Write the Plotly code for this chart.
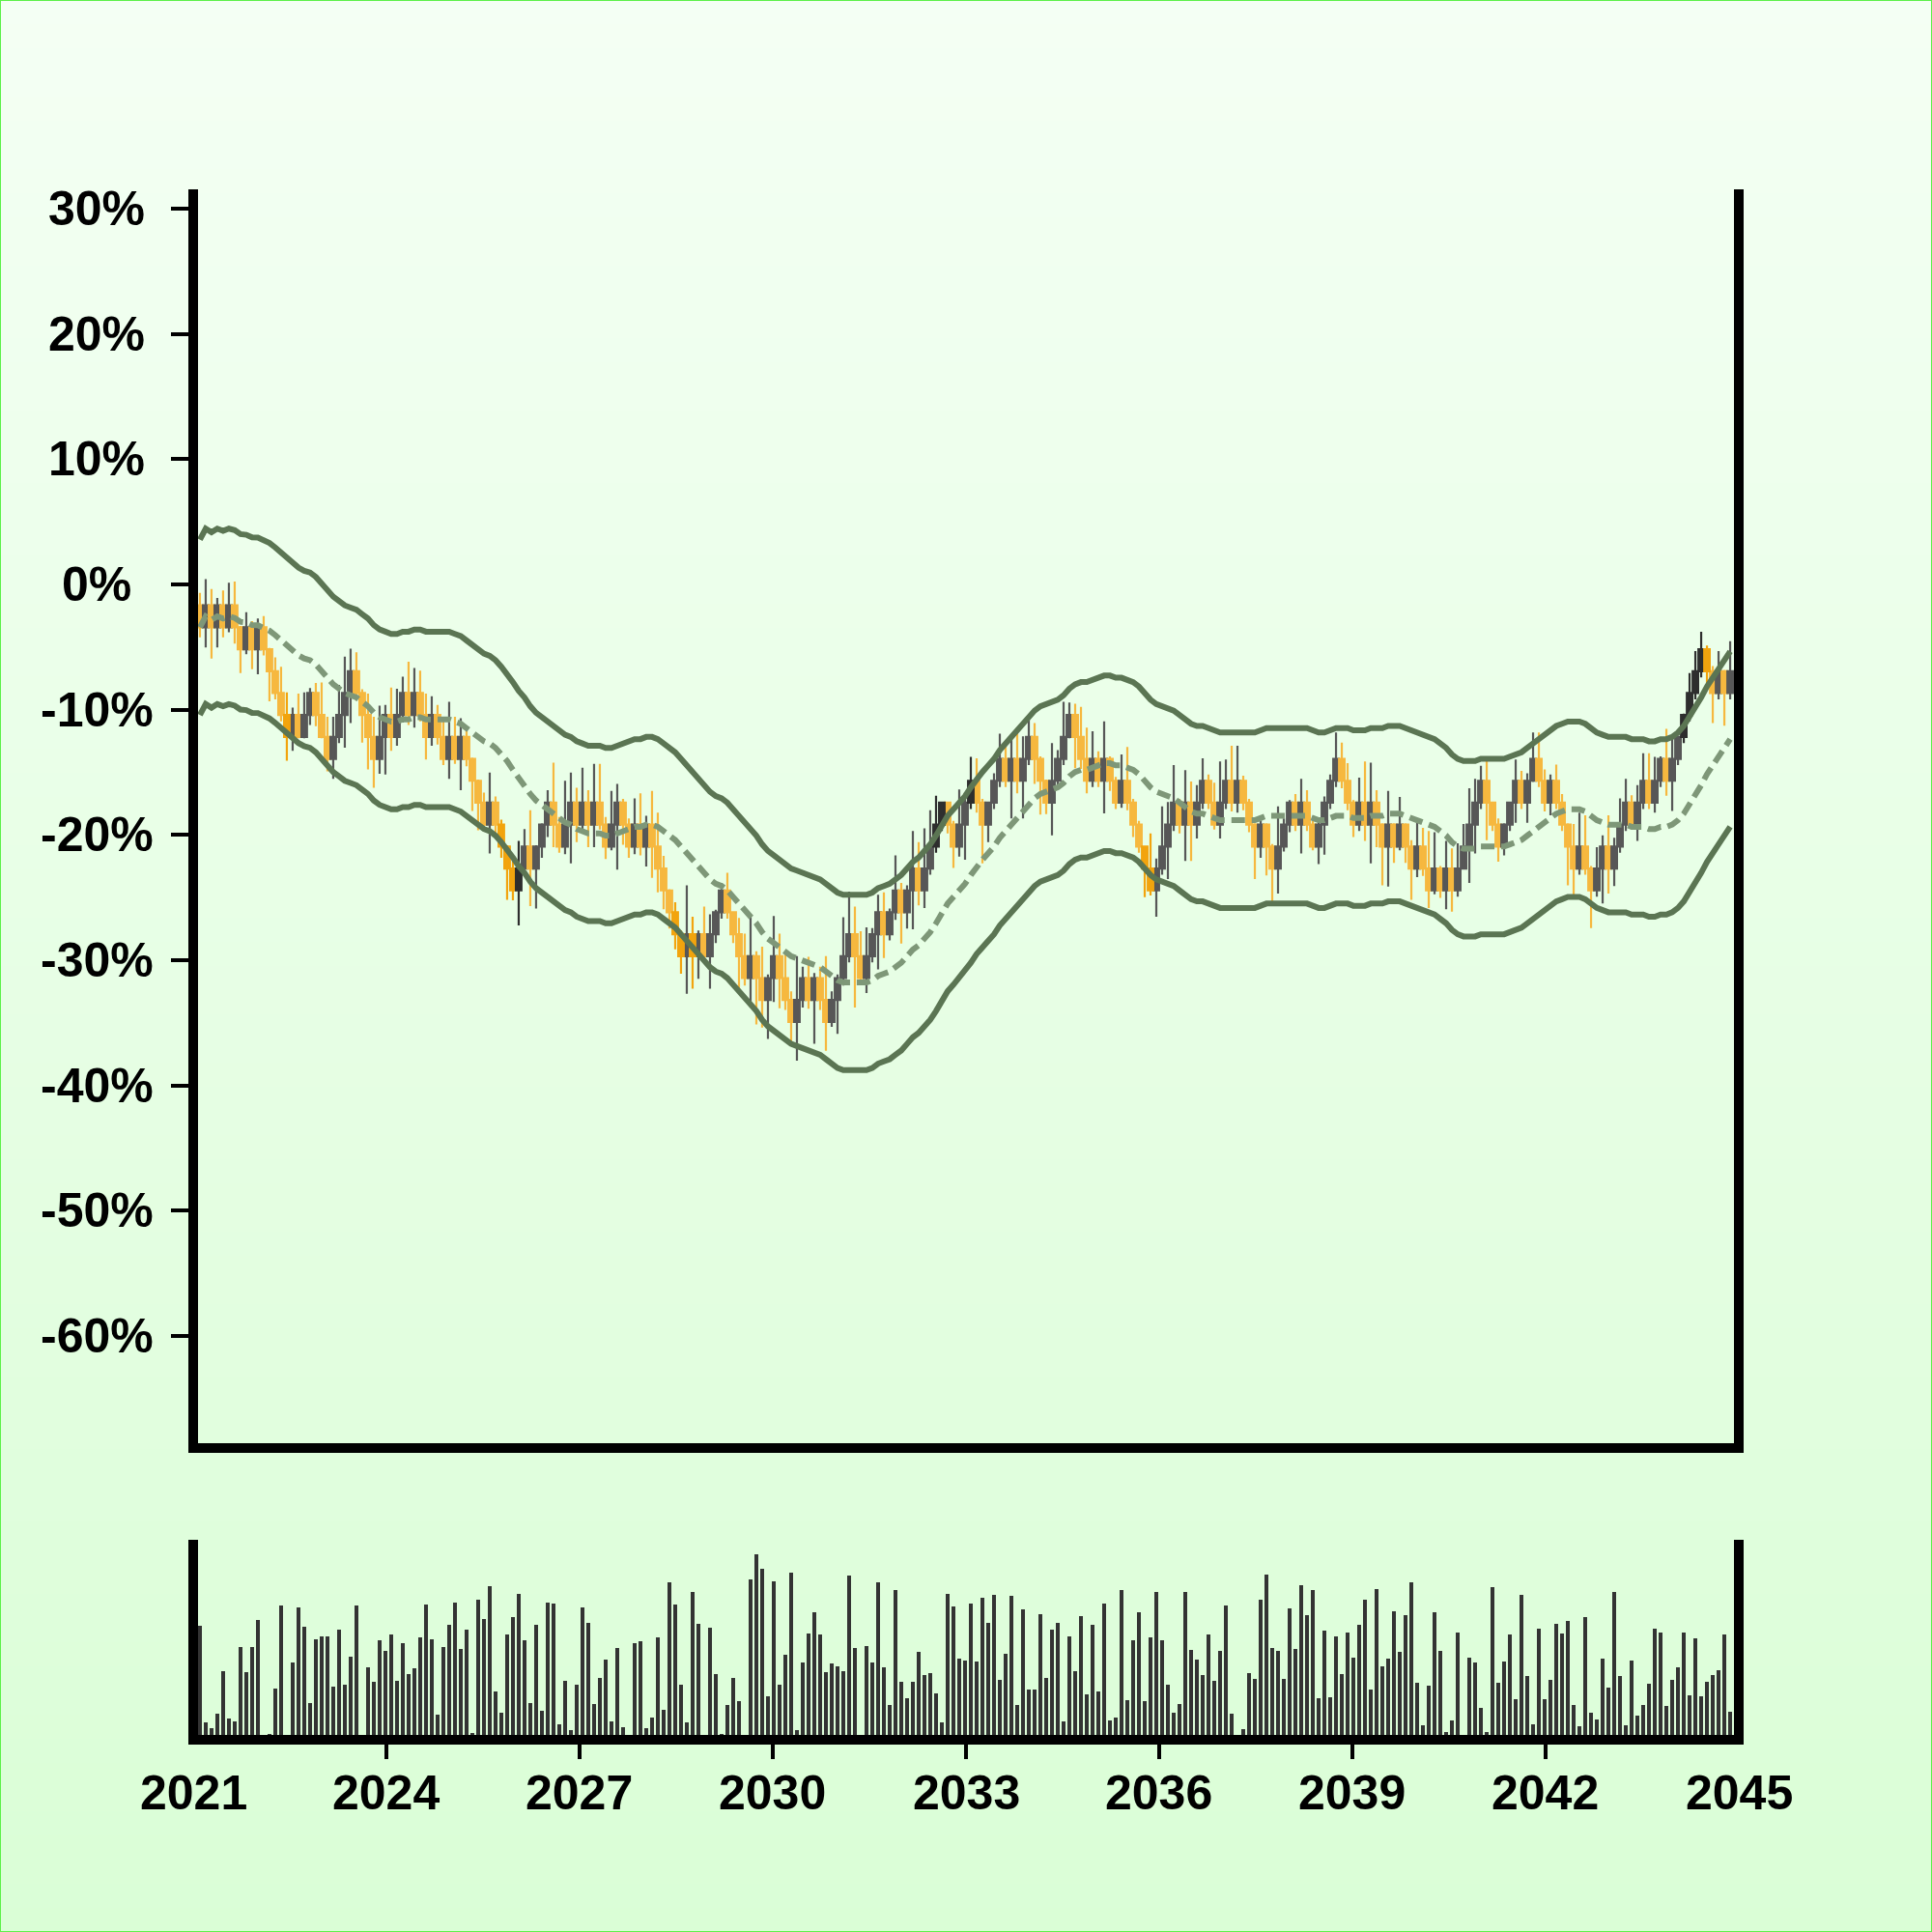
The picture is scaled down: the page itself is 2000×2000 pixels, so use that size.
import pandas as pd
import plotly.graph_objects as go

# ---------------- data ----------------
first_open = -1.67

close_pct = [
    -3.42, -1.67, -3.42, -1.67, -3.42, -1.67, -3.42, -5.17, -3.42, -5.17,
    -3.42, -5.17, -6.92, -8.67, -10.42, -12.17, -10.42, -12.17, -10.42, -8.67,
    -10.42, -12.17, -13.92, -12.17, -10.42, -8.67, -6.92, -8.67, -10.42, -12.17,
    -13.92, -12.17, -10.42, -12.17, -10.42, -8.67, -10.42, -8.67, -10.42, -12.17,
    -10.42, -12.17, -13.92, -12.17, -13.92, -12.17, -13.92, -15.67, -17.42, -19.17,
    -17.42, -19.17, -20.92, -22.67, -24.42, -22.67, -20.92, -22.67, -20.92, -19.17,
    -17.42, -19.17, -20.92, -19.17, -17.42, -19.17, -17.42, -19.17, -17.42, -19.17,
    -20.92, -19.17, -17.42, -19.17, -20.92, -19.17, -20.92, -19.17, -20.92, -22.67,
    -24.42, -26.17, -27.92, -29.67, -27.92, -29.67, -27.92, -29.67, -27.92, -26.17,
    -24.42, -26.17, -27.92, -29.67, -31.42, -29.67, -31.42, -33.17, -31.42, -29.67,
    -31.42, -33.17, -34.92, -33.17, -31.42, -33.17, -31.42, -33.17, -34.92, -33.17,
    -31.42, -29.67, -27.92, -29.67, -31.42, -29.67, -27.92, -26.17, -27.92, -26.17,
    -24.42, -26.17, -24.42, -22.67, -24.42, -22.67, -20.92, -19.17, -17.42, -19.17,
    -20.92, -19.17, -17.42, -15.67, -17.42, -19.17, -17.42, -15.67, -13.92, -15.67,
    -13.92, -15.67, -13.92, -12.17, -13.92, -15.67, -17.42, -15.67, -13.92, -12.17,
    -10.42, -12.17, -13.92, -15.67, -13.92, -15.67, -13.92, -15.67, -17.42, -15.67,
    -17.42, -19.17, -20.92, -22.67, -24.42, -22.67, -20.92, -19.17, -17.42, -19.17,
    -17.42, -19.17, -17.42, -15.67, -17.42, -19.17, -17.42, -15.67, -17.42, -15.67,
    -17.42, -19.17, -20.92, -19.17, -20.92, -22.67, -20.92, -19.17, -17.42, -19.17,
    -17.42, -19.17, -20.92, -19.17, -17.42, -15.67, -13.92, -15.67, -17.42, -19.17,
    -17.42, -19.17, -17.42, -19.17, -20.92, -19.17, -20.92, -19.17, -20.92, -22.67,
    -20.92, -22.67, -24.42, -22.67, -24.42, -22.67, -24.42, -22.67, -20.92, -19.17,
    -17.42, -15.67, -17.42, -19.17, -20.92, -19.17, -17.42, -15.67, -17.42, -15.67,
    -13.92, -15.67, -17.42, -15.67, -17.42, -19.17, -20.92, -22.67, -20.92, -22.67,
    -24.42, -22.67, -20.92, -22.67, -20.92, -19.17, -17.42, -19.17, -17.42, -15.67,
    -17.42, -15.67, -13.92, -15.67, -13.92, -12.17, -10.42, -8.67, -6.92, -5.17,
    -6.92, -8.67, -6.92, -8.67, -6.92,
]

# wick lengths above / below the body (percentage points)
wick_up = [
    1.0, 2.1, 1.3, 0.6, 1.2, 1.8, 1.9, 0.1, 1.2, 0.5,
    0.7, 0.9, 0.1, 1.1, 2.1, 1.8, 0.6, 1.7, 1.8, 0.4,
    0.8, 2.6, 1.6, 1.6, 2.4, 2.9, 1.8, 1.5, 0.3, 1.7,
    1.6, 2.5, 0.8, 2.2, 2.1, 1.3, 2.5, 2.0, 1.8, 1.7,
    1.5, 0.8, 1.6, 2.8, 1.6, 1.5, 0.5, 0.1, 0.1, 0.8,
    2.4, 0.5, 0.4, 0.1, 0.6, 2.2, 1.4, 2.9, 0.1, 0.1,
    1.0, 3.2, 0.6, 3.5, 2.4, 1.2, 2.8, 1.0, 3.1, 3.1,
    0.6, 2.7, 1.5, 0.3, 0.5, 2.1, 2.5, 0.7, 2.7, 2.7,
    1.0, 0.1, 0.8, 0.3, 3.9, 1.4, 0.3, 2.2, 1.6, 0.2,
    0.6, 1.4, 0.1, 1.3, 1.8, 3.2, 0.4, 2.5, 0.3, 3.2,
    1.8, 2.0, 0.7, 3.5, 0.9, 1.7, 0.4, 0.9, 3.5, 0.7,
    0.3, 3.1, 3.4, 2.2, 2.0, 2.3, 0.5, 1.4, 1.6, 0.3,
    2.8, 0.6, 0.4, 3.0, 2.1, 3.2, 2.9, 2.3, 0.1, 0.1,
    0.3, 2.8, 0.8, 1.9, 1.8, 0.3, 0.1, 0.6, 2.0, 1.2,
    1.7, 2.2, 1.8, 1.5, 1.1, 0.2, 0.1, 3.0, 0.7, 2.8,
    1.0, 0.9, 2.4, 2.5, 2.2, 0.6, 3.0, 0.2, 0.3, 2.1,
    2.7, 0.3, 0.3, 0.0, 2.8, 0.8, 3.2, 1.8, 3.0, 0.3,
    2.6, 1.7, 1.4, 1.8, 0.5, 1.6, 3.3, 1.7, 2.8, 2.8,
    0.4, 0.3, 0.1, 0.3, 0.1, 0.2, 3.2, 0.5, 0.2, 0.7,
    1.9, 1.0, 0.3, 0.2, 0.5, 0.5, 2.1, 1.3, 1.4, 0.2,
    2.0, 3.3, 3.2, 1.0, 0.1, 2.7, 0.1, 2.2, 0.1, 0.5,
    2.2, 1.5, 3.0, 2.9, 0.2, 2.2, 1.6, 2.0, 1.8, 2.9,
    1.9, 1.2, 1.7, 0.1, 0.5, 0.1, 0.1, 1.7, 0.8, 0.6,
    2.1, 2.1, 0.9, 0.5, 1.3, 0.7, 0.1, 1.8, 2.7, 2.5,
    0.2, 1.7, 0.9, 2.5, 0.7, 2.1, 1.9, 0.6, 1.4, 2.2,
    2.2, 1.9, 0.2, 2.4, 1.6, 0.1, 0.1, 1.6, 1.6, 1.4,
    0.3, 0.4, 1.6, 0.1, 2.4,
]
wick_down = [
    0.8, 1.6, 2.5, 1.6, 0.8, 0.4, 1.3, 1.9, 0.4, 1.6,
    2.0, 0.5, 2.4, 0.5, 0.5, 1.9, 1.1, 0.1, 0.1, 0.8,
    0.9, 0.1, 1.0, 1.6, 0.5, 2.6, 2.4, 0.6, 2.2, 2.6,
    2.3, 1.2, 3.0, 1.1, 0.7, 0.6, 0.8, 1.0, 0.5, 1.8,
    0.7, 0.6, 0.5, 1.6, 0.4, 2.5, 0.6, 2.4, 2.2, 0.5,
    2.3, 0.8, 0.9, 2.5, 0.8, 2.8, 0.1, 3.0, 3.2, 0.9,
    1.0, 1.8, 0.5, 0.6, 3.1, 1.4, 0.5, 1.8, 1.8, 0.4,
    1.0, 0.3, 3.6, 1.6, 0.9, 0.6, 0.7, 1.6, 2.5, 1.9,
    1.5, 1.3, 1.2, 1.4, 3.0, 2.6, 1.8, 0.5, 2.6, 0.7,
    0.5, 0.5, 0.7, 2.9, 0.6, 1.9, 3.7, 2.2, 3.1, 1.9,
    2.4, 0.8, 1.7, 3.1, 0.6, 0.7, 3.5, 0.8, 2.3, 0.4,
    2.7, 0.6, 0.5, 4.1, 0.5, 1.2, 0.5, 2.8, 1.9, 0.5,
    0.6, 2.5, 1.3, 3.1, 1.2, 1.4, 0.5, 0.5, 0.5, 0.7,
    1.7, 0.8, 2.8, 0.5, 0.8, 3.1, 1.4, 0.5, 0.5, 0.5,
    3.0, 1.0, 3.0, 0.5, 2.0, 2.7, 0.9, 2.6, 0.5, 0.5,
    0.1, 2.5, 0.8, 1.0, 0.5, 0.5, 2.6, 0.8, 0.5, 0.4,
    0.6, 1.0, 0.5, 2.3, 0.4, 2.1, 0.5, 2.6, 0.5, 0.7,
    2.9, 2.9, 1.1, 0.5, 0.5, 0.4, 1.1, 0.5, 0.7, 0.8,
    0.6, 0.6, 2.6, 0.9, 2.3, 2.8, 2.0, 0.4, 0.6, 0.5,
    2.3, 0.5, 0.3, 1.4, 2.4, 0.5, 0.5, 0.6, 0.6, 1.0,
    0.5, 1.3, 3.1, 1.8, 3.1, 3.2, 1.3, 0.3, 1.3, 2.5,
    0.7, 0.6, 1.4, 0.3, 0.6, 1.5, 1.7, 0.5, 0.1, 2.9,
    2.3, 0.5, 3.0, 0.5, 1.2, 0.7, 0.5, 1.6, 0.5, 1.6,
    0.1, 0.5, 0.7, 1.0, 0.5, 0.5, 3.1, 2.3, 0.5, 0.5,
    3.0, 0.5, 2.8, 2.0, 1.4, 0.5, 0.5, 0.4, 1.3, 0.5,
    0.5, 0.8, 0.5, 1.2, 2.4, 0.5, 0.5, 0.5, 0.5, 0.5,
    1.2, 2.4, 0.5, 2.6, 0.5,
]

volume = [
    57.0, 6.6, 3.7, 11.2, 33.0, 8.8, 6.9, 45.7, 32.7, 45.7,
    59.6, 0.0, 0.7, 23.9, 67.2, 0.0, 37.7, 66.5, 56.3, 16.4,
    49.6, 51.1, 51.1, 25.0, 55.0, 26.2, 40.8, 67.2, 0.0, 35.2,
    27.4, 49.1, 43.7, 52.3, 28.3, 47.5, 31.6, 34.5, 50.6, 67.9,
    49.6, 10.5, 45.5, 57.4, 68.7, 44.7, 54.7, 0.8, 70.2, 60.2,
    77.2, 22.5, 11.7, 52.1, 61.3, 73.6, 49.1, 16.6, 57.2, 12.7,
    68.7, 68.5, 5.4, 28.3, 2.5, 26.2, 66.5, 58.2, 16.1, 29.9,
    39.1, 7.3, 45.2, 3.9, 0.0, 47.7, 48.6, 3.7, 9.3, 50.8,
    13.0, 79.5, 68.0, 25.9, 6.6, 74.6, 57.7, 0.0, 55.7, 31.5,
    0.3, 15.6, 29.9, 17.4, 0.0, 81.0, 93.9, 86.3, 20.3, 80.0,
    25.9, 41.5, 84.3, 2.5, 37.6, 52.8, 63.6, 52.3, 32.8, 37.1,
    35.9, 33.0, 82.7, 45.0, 0.0, 46.2, 37.6, 79.2, 35.0, 15.6,
    75.5, 27.6, 19.3, 27.6, 43.1, 31.0, 32.0, 21.8, 6.3, 73.6,
    67.0, 39.6, 38.6, 68.4, 38.4, 71.2, 58.2, 73.1, 28.9, 42.0,
    72.6, 15.7, 65.1, 23.7, 23.7, 62.9, 29.9, 54.7, 58.2, 6.9,
    51.1, 33.3, 61.9, 21.3, 57.4, 22.7, 68.2, 7.8, 9.3, 75.6,
    18.1, 49.2, 63.6, 17.6, 50.8, 74.3, 49.2, 25.9, 11.7, 16.1,
    74.6, 44.2, 39.4, 31.3, 52.3, 28.3, 43.5, 67.5, 11.2, 0.0,
    2.9, 32.3, 29.1, 70.4, 83.6, 45.3, 43.5, 29.1, 66.0, 44.5,
    77.8, 62.3, 75.5, 19.0, 54.1, 19.8, 51.1, 31.5, 53.3, 40.3,
    57.4, 70.2, 23.7, 76.0, 35.7, 39.8, 64.1, 43.0, 62.3, 79.4,
    27.1, 4.9, 25.5, 63.8, 43.5, 1.4, 7.4, 53.1, 0.0, 40.3,
    37.6, 14.2, 1.7, 77.0, 27.2, 38.4, 52.1, 18.4, 73.1, 30.6,
    5.4, 55.2, 18.8, 28.8, 58.0, 52.8, 59.2, 15.7, 4.6, 61.3,
    11.7, 8.1, 39.8, 24.4, 74.3, 30.8, 4.9, 38.7, 10.0, 15.6,
    26.4, 55.5, 53.1, 15.1, 28.9, 35.2, 53.1, 20.6, 50.1, 20.1,
    27.7, 31.1, 33.8, 52.3, 12.2,
]

x_tick_years = [2021, 2024, 2027, 2030, 2033, 2036, 2039, 2042, 2045]
y_tick_values = [30, 20, 10, 0, -10, -20, -30, -40, -50, -60]
y_tick_labels = ["30%", "20%", "10%", "0%", "-10%", "-20%", "-30%", "-40%", "-50%", "-60%"]

n = len(close_pct)
assert len(wick_up) == n and len(wick_down) == n and len(volume) == n, (n, len(wick_up), len(wick_down), len(volume))

dates = pd.date_range("2021-02-08", "2044-11-13", periods=n)

open_pct = [first_open] + close_pct[:-1]
high_pct = [max(o, c) + u for o, c, u in zip(open_pct, close_pct, wick_up)]
low_pct = [min(o, c) - d for o, c, d in zip(open_pct, close_pct, wick_down)]

# Bollinger-style envelope (20-period SMA +/- fixed width)
BAND_WIDTH = 7.0
s_close = pd.Series(close_pct)
mid = s_close.rolling(20, min_periods=1).mean()
upper = mid + BAND_WIDTH
lower = mid - BAND_WIDTH
outside = ((s_close > upper) | (s_close < lower)).tolist()

def masked(vals, keep):
    return [v if k else None for v, k in zip(vals, keep)]

normal_keep = [not o for o in outside]

# ---------------- styling ----------------
ORANGE = "#F6B83F"
ORANGE_DARK = "#F2A40E"
GRAY = "#575757"
GRAY_DARK = "#2E2E2E"
BAND_COLOR = "#5B7553"
MID_COLOR = "#7E9778"
FONT = dict(family="Liberation Sans, Arial, sans-serif", size=50, color="black", weight="bold")

fig = go.Figure()

fig.add_trace(go.Candlestick(
    x=dates,
    open=masked(open_pct, normal_keep), high=masked(high_pct, normal_keep),
    low=masked(low_pct, normal_keep), close=masked(close_pct, normal_keep),
    increasing=dict(line=dict(color=GRAY, width=2.2), fillcolor=GRAY),
    decreasing=dict(line=dict(color=ORANGE, width=2.2), fillcolor=ORANGE),
    whiskerwidth=0, xaxis="x", yaxis="y", hoverinfo="skip",
))
fig.add_trace(go.Candlestick(
    x=dates,
    open=masked(open_pct, outside), high=masked(high_pct, outside),
    low=masked(low_pct, outside), close=masked(close_pct, outside),
    increasing=dict(line=dict(color=GRAY_DARK, width=2.2), fillcolor=GRAY_DARK),
    decreasing=dict(line=dict(color=ORANGE_DARK, width=2.2), fillcolor=ORANGE_DARK),
    whiskerwidth=0, xaxis="x", yaxis="y", hoverinfo="skip",
))

fig.add_trace(go.Scatter(x=dates, y=upper, mode="lines",
                         line=dict(color=BAND_COLOR, width=6), xaxis="x", yaxis="y"))
fig.add_trace(go.Scatter(x=dates, y=lower, mode="lines",
                         line=dict(color=BAND_COLOR, width=6), xaxis="x", yaxis="y"))
fig.add_trace(go.Scatter(x=dates, y=mid, mode="lines",
                         line=dict(color=MID_COLOR, width=6, dash="14px,7px"), xaxis="x", yaxis="y"))

fig.add_trace(go.Bar(x=dates, y=volume, marker=dict(color="#333333", line=dict(width=0)),
                     width=19 * 86400000, xaxis="x2", yaxis="y2"))

# ---------------- geometry helpers (pixel -> paper) ----------------
L, R, T, B = 200, 200, 200, 199
W = H = 2000
PW, PH = W - L - R, H - T - B

def px_x(px):
    return (px - L) / PW

def px_y(py):
    return (H - B - py) / PH

main_bottom_px, vol_top_px = 1499, 1597
shapes = []

# vertical background gradient
top_rgb = (244, 255, 244)
bot_rgb = (218, 254, 214)
NB = 80
for k in range(NB):
    t = (k + 0.5) / NB
    r = round(top_rgb[0] + (bot_rgb[0] - top_rgb[0]) * t)
    g = round(top_rgb[1] + (bot_rgb[1] - top_rgb[1]) * t)
    b = round(top_rgb[2] + (bot_rgb[2] - top_rgb[2]) * t)
    y0 = H * k / NB
    y1 = H * (k + 1) / NB + 1
    shapes.append(dict(type="rect", xref="paper", yref="paper", layer="below",
                       x0=px_x(0), x1=px_x(W), y0=px_y(y1), y1=px_y(y0),
                       fillcolor=f"rgb({r},{g},{b})", line=dict(width=0)))

AX = dict(color="black", width=10)
for xp in (0, 1):
    shapes.append(dict(type="line", xref="paper", yref="paper", layer="above",
                       x0=xp, x1=xp, y0=px_y(main_bottom_px + 5), y1=px_y(196), line=AX))
    shapes.append(dict(type="line", xref="paper", yref="paper", layer="above",
                       x0=xp, x1=xp, y0=px_y(H - B + 5), y1=px_y(vol_top_px - 3), line=AX))
for yp in (px_y(main_bottom_px), px_y(H - B)):
    shapes.append(dict(type="line", xref="paper", yref="paper", layer="above",
                       x0=px_x(L - 5), x1=px_x(W - R + 5), y0=yp, y1=yp, line=AX))

# outer border
shapes.append(dict(type="rect", xref="paper", yref="paper", layer="above",
                   x0=px_x(0), x1=px_x(W), y0=px_y(W), y1=px_y(0),
                   line=dict(color="#5DF04A", width=2), fillcolor="rgba(0,0,0,0)"))

# y tick labels, centred in the left margin like the reference
annotations = [
    dict(x=px_x(100), y=v, xref="paper", yref="y", text=t, showarrow=False,
         xanchor="center", yanchor="middle", font=FONT)
    for v, t in zip(y_tick_values, y_tick_labels)
]
# x tick labels (end labels have no tick mark in the reference)
annotations += [
    dict(x=f"{yr}-01-01", y=px_y(1856), xref="x2", yref="paper", text=str(yr),
         showarrow=False, xanchor="center", yanchor="middle", font=FONT)
    for yr in x_tick_years
]

x_range = ["2021-01-01", "2045-01-01"]

fig.update_layout(
    width=W, height=H,
    margin=dict(l=L, r=R, t=T, b=B, pad=0),
    paper_bgcolor="#E8FFE6",
    plot_bgcolor="rgba(0,0,0,0)",
    showlegend=False,
    boxgap=0.05, boxgroupgap=0,
    bargap=0,
    shapes=shapes,
    annotations=annotations,
    xaxis=dict(type="date", range=x_range, domain=[0, 1], anchor="y",
               showticklabels=False, ticks="", showgrid=False, zeroline=False,
               showline=False, rangeslider=dict(visible=False), matches="x2"),
    yaxis=dict(domain=[px_y(main_bottom_px), 1], range=[-68.93, 31.23], anchor="x",
               tickmode="array", tickvals=y_tick_values, showticklabels=False,
               ticks="outside", ticklen=22, tickwidth=4, tickcolor="black",
               showgrid=False, zeroline=False, showline=False),
    xaxis2=dict(type="date", range=x_range, domain=[0, 1], anchor="y2",
                tickmode="array",
                tickvals=[f"{y}-01-01" for y in x_tick_years[1:-1]],
                showticklabels=False,
                ticks="outside", ticklen=19, tickwidth=4, tickcolor="black",
                showgrid=False, zeroline=False, showline=False),
    yaxis2=dict(domain=[0, px_y(vol_top_px)], range=[-2.5, 100], anchor="x2",
                showticklabels=False, ticks="", showgrid=False, zeroline=False,
                showline=False),
)

fig.write_html("out.html", config={"displayModeBar": False},
               post_script="document.body.style.margin='0px';")
